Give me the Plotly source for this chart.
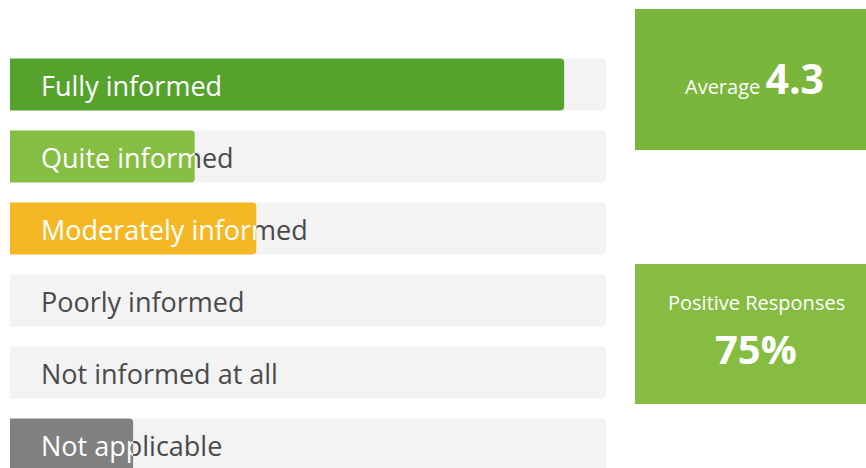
import plotly.graph_objects as go

# ---- data ----
categories = ["Fully informed", "Quite informed", "Moderately informed",
              "Poorly informed", "Not informed at all", "Not applicable"]
counts = [9, 3, 4, 0, 0, 2]
bar_colors = ["#55A32D", "#86BE43", "#F5B824", "#86BE43", "#86BE43", "#808080"]
scale_max = 9.68
average_label = "Average"
average_value = "4.3"
positive_label = "Positive Responses"
positive_value = "75%"

# ---- geometry (pixels) ----
W, H = 866, 468
FONT = "Open Sans"
TRACK_X0, TRACK_X1 = 10, 606
ROW0_CENTER, PITCH = 84.5, 72
BAR_W = 0.72
TEXT_OFFSET_PX = 31
TEXT_DY_PX = 5
LABEL_SIZE = 27

def px(x):
    return x / W

def py(y):
    return 1 - y / H

y_top = -ROW0_CENTER / PITCH
y_bottom = y_top + H / PITCH
yrange = [y_bottom, y_top]
text_x = TEXT_OFFSET_PX / (TRACK_X1 - TRACK_X0) * scale_max
text_dy = TEXT_DY_PX / PITCH
rows = list(range(len(categories)))
text_rows = [r + text_dy for r in rows]

fig = go.Figure()
layout_axes = {}

# subplot 1: tracks + dark labels
fig.add_trace(go.Bar(
    x=[scale_max] * len(categories), y=rows,
    orientation="h", width=BAR_W, marker=dict(color="#F3F3F3", cornerradius=4, line_width=0),
    hoverinfo="skip", showlegend=False, xaxis="x", yaxis="y"))
fig.add_trace(go.Scatter(
    x=[text_x] * len(categories), y=text_rows, mode="text",
    text=categories, textposition="middle right",
    textfont=dict(family=FONT, size=LABEL_SIZE, color="#4A4A4A"),
    hoverinfo="skip", showlegend=False, cliponaxis=False, xaxis="x", yaxis="y"))
layout_axes["xaxis"] = dict(domain=[px(TRACK_X0), px(TRACK_X1)], range=[0, scale_max], visible=False, fixedrange=True)
layout_axes["yaxis"] = dict(domain=[0, 1], range=yrange, visible=False, fixedrange=True)

# subplot 2: coloured bars
fig.add_trace(go.Bar(
    x=counts, y=rows, orientation="h", width=BAR_W,
    marker=dict(color=bar_colors, cornerradius=4, line_width=0),
    hoverinfo="skip", showlegend=False, xaxis="x2", yaxis="y2"))
layout_axes["xaxis2"] = dict(domain=[px(TRACK_X0), px(TRACK_X1)], range=[0, scale_max], visible=False, fixedrange=True)
layout_axes["yaxis2"] = dict(domain=[0, 1], range=yrange, visible=False, fixedrange=True, anchor="x2")

# white labels clipped to each coloured bar
n = 3
for i, (cat, v) in enumerate(zip(categories, counts)):
    if v <= 0:
        continue
    end_px = TRACK_X0 + v / scale_max * (TRACK_X1 - TRACK_X0)
    fig.add_trace(go.Scatter(
        x=[text_x], y=[text_rows[i]], mode="text", text=[cat], textposition="middle right",
        textfont=dict(family=FONT, size=LABEL_SIZE, color="#FFFFFF"),
        hoverinfo="skip", showlegend=False, cliponaxis=True,
        xaxis=f"x{n}", yaxis=f"y{n}"))
    layout_axes[f"xaxis{n}"] = dict(domain=[px(TRACK_X0), px(end_px)], range=[0, v],
                                    visible=False, fixedrange=True, anchor=f"y{n}")
    layout_axes[f"yaxis{n}"] = dict(domain=[0, 1], range=yrange, visible=False,
                                    fixedrange=True, anchor=f"x{n}")
    n += 1

shapes = [
    dict(type="rect", xref="paper", yref="paper", x0=px(635), x1=px(866), y0=py(150), y1=py(9),
         fillcolor="#7AB53C", line_width=0, layer="below"),
    dict(type="rect", xref="paper", yref="paper", x0=px(635), x1=px(866), y0=py(404), y1=py(264),
         fillcolor="#86BC42", line_width=0, layer="below"),
]
annotations = [
    dict(xref="paper", yref="paper", x=px(754), y=py(78), xanchor="center", yanchor="middle",
         text=f"{average_label} <b><span style='font-size:41px'>{average_value}</span></b>",
         showarrow=False, font=dict(family=FONT, size=20, color="#FFFFFF")),
    dict(xref="paper", yref="paper", x=px(756), y=py(302), xanchor="center", yanchor="middle",
         text=positive_label, showarrow=False, font=dict(family=FONT, size=20, color="#FFFFFF")),
    dict(xref="paper", yref="paper", x=px(756), y=py(348), xanchor="center", yanchor="middle",
         text=f"<b>{positive_value}</b>", showarrow=False, font=dict(family=FONT, size=40, color="#FFFFFF")),
]

fig.update_layout(
    width=W, height=H, margin=dict(l=0, r=0, t=0, b=0),
    paper_bgcolor="#FFFFFF", plot_bgcolor="rgba(0,0,0,0)",
    barmode="overlay", shapes=shapes, annotations=annotations,
    showlegend=False, **layout_axes)

fig.write_html("out.html", config={"displayModeBar": False},
               post_script="document.body.style.margin='0';document.body.style.overflow='hidden';")
